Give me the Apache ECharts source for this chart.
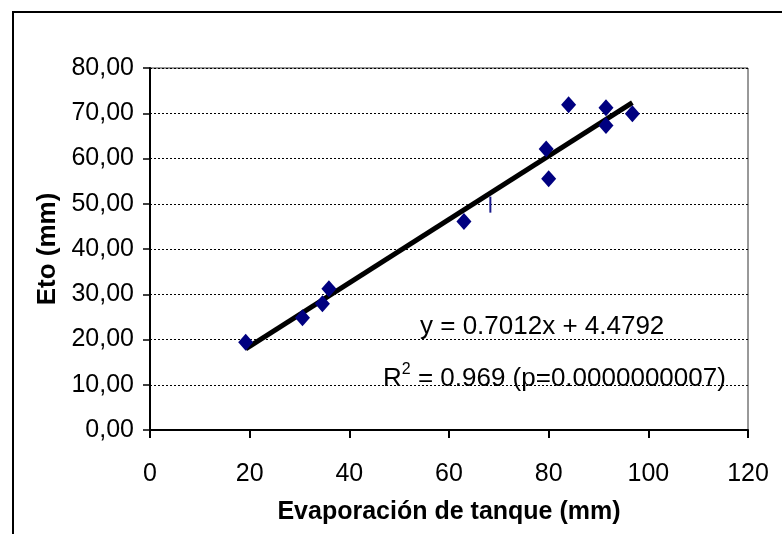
<!DOCTYPE html>
<html>
<head>
<meta charset="utf-8">
<script src="https://cdn.jsdelivr.net/npm/echarts@6/dist/echarts.min.js"></script>
<style>
  html, body { margin: 0; padding: 0; background: #fff; }
  #chart { width: 782px; height: 534px; }
</style>
</head>
<body>
<div id="chart"></div>
<script>
// Pan evaporation vs. reference evapotranspiration (mm)
const evapTanque = [19.2, 30.6, 34.6, 35.9, 63.0, 79.5, 80.0, 84.0, 91.5, 91.5, 96.8];
const eto        = [19.4, 24.8, 27.9, 31.2, 46.1, 62.1, 55.5, 71.9, 71.2, 67.3, 69.9];

// single marker drawn as a short vertical bar
const markerX = [68.3];
const markerY = [49.8];

// linear fit reported on the chart
const slope = 0.7012;
const intercept = 4.4792;

const xTickLabels = ['0', '20', '40', '60', '80', '100', '120'];
const yTickLabels = ['0,00', '10,00', '20,00', '30,00', '40,00', '50,00', '60,00', '70,00', '80,00'];

const FONT = '"Liberation Sans", Arial, sans-serif';
const points = evapTanque.map((x, i) => [x, eto[i]]);
const xMin = Math.min(...evapTanque);
const xMax = Math.max(...evapTanque);
const fitLine = [[xMin, slope * xMin + intercept], [xMax, slope * xMax + intercept]];

const chart = echarts.init(document.getElementById('chart'), null, { renderer: 'canvas' });

chart.setOption({
  animation: false,
  backgroundColor: '#fff',
  grid: {
    left: 150, top: 68, right: 34, bottom: 104,
    show: true, borderColor: '#333', borderWidth: 1, backgroundColor: 'transparent'
  },
  xAxis: {
    type: 'value', min: 0, max: 120, interval: 20,
    name: 'Evaporación de tanque (mm)',
    nameLocation: 'middle', nameGap: 70,
    nameTextStyle: { fontFamily: FONT, fontSize: 25, fontWeight: 'bold', color: '#000' },
    axisLine: { show: true, onZero: false, lineStyle: { color: '#000', width: 2 } },
    axisTick: { show: true, length: 8, lineStyle: { color: '#000', width: 2 } },
    axisLabel: {
      fontFamily: FONT, fontSize: 25, color: '#000', margin: 32,
      formatter: v => xTickLabels[Math.round(v / 20)]
    },
    splitLine: { show: false }
  },
  yAxis: {
    type: 'value', min: 0, max: 80, interval: 10,
    name: 'Eto (mm)',
    nameLocation: 'middle', nameGap: 88,
    nameTextStyle: { fontFamily: FONT, fontSize: 26, fontWeight: 'bold', color: '#000' },
    axisLine: { show: true, onZero: false, lineStyle: { color: '#000', width: 2 } },
    axisTick: { show: true, length: 7, lineStyle: { color: '#000', width: 1.5 } },
    axisLabel: {
      fontFamily: FONT, fontSize: 25, color: '#000', margin: 16,
      formatter: v => yTickLabels[Math.round(v / 10)]
    },
    splitLine: { show: true, lineStyle: { color: '#000', width: 1, type: [2, 2] } }
  },
  graphic: [
    {
      type: 'rect', silent: true, z: 100,
      shape: { x: 13, y: 12, width: 900, height: 700 },
      style: { fill: 'none', stroke: '#000', lineWidth: 2 }
    },
    {
      type: 'text', z: 100, left: 420, top: 314,
      style: {
        text: 'y = 0.7012x + 4.4792',
        font: '26px ' + FONT, fill: '#000'
      }
    },
    {
      type: 'text', z: 100, left: 383, top: 362,
      style: {
        text: '{b|R}{s|2}{b| = 0.969 (p=0.0000000007)}',
        fill: '#000',
        rich: {
          b: { fontFamily: FONT, fontSize: 26, color: '#000', lineHeight: 30, verticalAlign: 'bottom' },
          s: { fontFamily: FONT, fontSize: 16, color: '#000', lineHeight: 30, verticalAlign: 'top' }
        }
      }
    }
  ],
  series: [
    {
      type: 'line', data: fitLine, symbol: 'none', z: 3,
      lineStyle: { color: '#000', width: 5 }
    },
    {
      type: 'scatter', data: points, symbol: 'diamond', symbolSize: [15, 17], z: 4,
      itemStyle: { color: '#000080', opacity: 1 }
    },
    {
      type: 'scatter', data: markerX.map((x, i) => [x, markerY[i]]),
      symbol: 'rect', symbolSize: [2, 16], z: 4,
      itemStyle: { color: '#1a1a8c', opacity: 1 }
    }
  ]
});
</script>
</body>
</html>
